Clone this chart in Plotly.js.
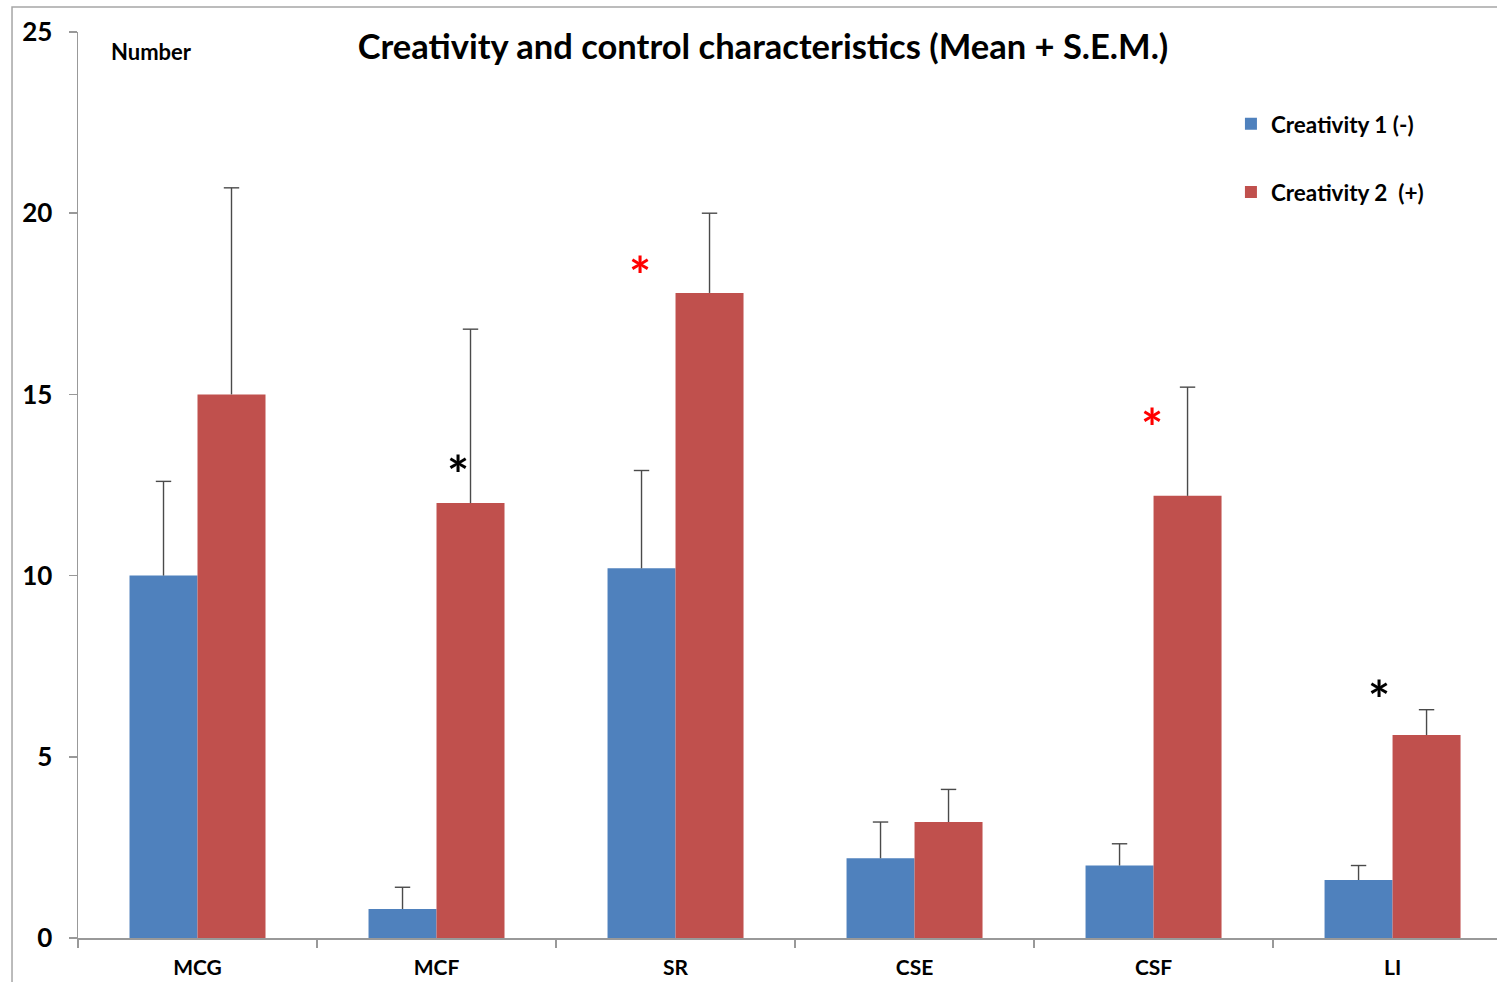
<!DOCTYPE html>
<html>
<head>
<meta charset="utf-8">
<script src="https://cdn.plot.ly/plotly-3.0.1.min.js"></script>
<style>
  html, body { margin: 0; padding: 0; background: #ffffff; overflow: hidden; }
  #chart { width: 1497px; height: 982px; }
</style>
</head>
<body>
<div id="chart"></div>
<script>
// Measures and their group means with standard errors
const categories = ['MCG', 'MCF', 'SR', 'CSE', 'CSF', 'LI'];
const creativity1Mean = [10, 0.8, 10.2, 2.2, 2.0, 1.6];
const creativity1Sem = [2.6, 0.6, 2.7, 1.0, 0.6, 0.4];
const creativity2Mean = [15, 12, 17.8, 3.2, 12.2, 5.6];
const creativity2Sem = [5.7, 4.8, 2.2, 0.9, 3.0, 0.7];
const yTickValues = [0, 5, 10, 15, 20, 25];

// Significance markers
const starCategories = ['MCF', 'SR', 'CSF', 'LI'];
const starLevels = [13.1, 18.6, 14.4, 6.9];
const starColors = ['#000000', '#ff0000', '#ff0000', '#000000'];
const starShifts = [21, -36, -2, -14];

const FONT = 'Lato, "Open Sans", "DejaVu Sans", sans-serif';
const BLUE = '#4f81bd';
const RED = '#c0504d';
const ERR = '#4a4a4a';
const GAP = 0.431;

const zeros = categories.map(() => 0);
const tops = (m, s) => m.map((v, i) => v + s[i]);

function barTrace(name, mean, sem, color, group) {
  return {
    type: 'bar', name: name, x: categories, y: mean,
    marker: { color: color, line: { width: 0 } },
    offsetgroup: group, legendgroup: group,
    error_y: { type: 'data', symmetric: false, array: sem, arrayminus: zeros,
               width: 0, thickness: 1.4, color: ERR },
    hoverinfo: 'x+y'
  };
}

function capTrace(mean, sem, group) {
  return {
    type: 'scatter', mode: 'markers', x: categories, y: tops(mean, sem),
    offsetgroup: group, alignmentgroup: 'caps', orientation: 'v',
    marker: { symbol: 'line-ew', size: 11, line: { width: 1.4, color: ERR } },
    showlegend: false, hoverinfo: 'skip'
  };
}

const data = [
  barTrace('Creativity 1 (-)', creativity1Mean, creativity1Sem, BLUE, 'g1'),
  barTrace('Creativity 2  (+)', creativity2Mean, creativity2Sem, RED, 'g2'),
  capTrace(creativity1Mean, creativity1Sem, 'g1'),
  capTrace(creativity2Mean, creativity2Sem, 'g2')
];

const annotations = starCategories.map((c, i) => ({
  x: c, y: starLevels[i], xref: 'x', yref: 'y',
  text: '*', showarrow: false, xshift: starShifts[i], yshift: -11,
  xanchor: 'center', yanchor: 'middle',
  font: { family: FONT, size: 52, color: starColors[i], weight: 700 }
}));

annotations.push({
  x: 0.0215, y: 0.978, xref: 'paper', yref: 'paper',
  text: '<b>Number</b>', showarrow: false, xanchor: 'left', yanchor: 'middle',
  font: { family: FONT, size: 22, color: '#000000' }
});

const layout = {
  width: 1497, height: 982,
  margin: { l: 78, r: 0, t: 32, b: 44 },
  paper_bgcolor: '#ffffff', plot_bgcolor: '#ffffff',
  font: { family: FONT, color: '#000000' },
  title: {
    text: '<b>Creativity and control characteristics (Mean + S.E.M.)</b>',
    xref: 'container', yref: 'container', x: 0.5097, y: 0.952,
    xanchor: 'center', yanchor: 'middle',
    font: { family: FONT, size: 34.5, color: '#000000' }
  },
  barmode: 'group', bargap: GAP, bargroupgap: 0,
  scattermode: 'group', scattergap: GAP,
  xaxis: {
    type: 'category', range: [-0.5, 5.437], fixedrange: true,
    showline: true, linecolor: '#999999', linewidth: 1.5,
    ticks: 'outside', tickson: 'boundaries', ticklen: 8, tickcolor: '#999999', tickwidth: 1.5,
    ticklabelstandoff: 10,
    tickfont: { family: FONT, size: 21, color: '#000000', weight: 700 },
    showgrid: false, zeroline: false
  },
  yaxis: {
    range: [0, 25], tickvals: yTickValues, ticktext: yTickValues.map(String), fixedrange: true,
    showline: true, linecolor: '#999999', linewidth: 1.5,
    ticks: 'outside', ticklen: 8, tickcolor: '#999999', tickwidth: 1.5,
    ticklabelstandoff: 11,
    tickfont: { family: FONT, size: 26, color: '#000000', weight: 700 },
    showgrid: false, zeroline: false
  },
  legend: {
    x: 0.8125, y: 0.922, xanchor: 'left', yanchor: 'top',
    bgcolor: 'rgba(0,0,0,0)', borderwidth: 0,
    tracegroupgap: 36,
    font: { family: FONT, size: 22.5, color: '#000000', weight: 700 }
  },
  showlegend: true,
  annotations: annotations,
  shapes: [{
    type: 'path', xref: 'paper', yref: 'paper',
    path: 'M -0.0465 -0.06 L -0.0465 1.0276 L 1.01 1.0276',
    line: { color: '#a6a6a6', width: 1.5 }
  }]
};

Plotly.newPlot('chart', data, layout, { displayModeBar: false, staticPlot: true });
</script>
</body>
</html>
